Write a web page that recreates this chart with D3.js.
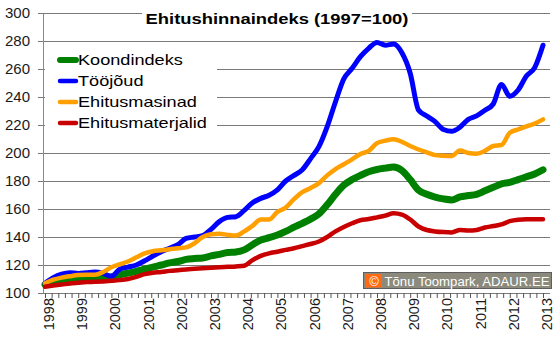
<!DOCTYPE html>
<html><head><meta charset="utf-8">
<script src="https://cdn.jsdelivr.net/npm/d3@7"></script>
<style>body{margin:0;background:#fff}svg{display:block}text{font-family:"Liberation Sans",Arial,sans-serif}</style>
</head><body><svg id="c" width="560" height="342"></svg>
<script>
const title = "Ehitushinnaindeks (1997=100)";
const credit = "Tõnu Toompark, ADAUR.EE";
const seriesNames = ["Koondindeks", "Tööjõud", "Ehitusmasinad", "Ehitusmaterjalid"];
const seriesColors = ["#008000", "#0000ff", "#ff9f00", "#c80000"];
const yearLabels = ["1998","1999","2000","2001","2002","2003","2004","2005","2006","2007","2008","2009","2010","2011","2012","2013"];
const yTicks = [100, 120, 140, 160, 180, 200, 220, 240, 260, 280, 300];
// quarterly values 1998.0 ... 2013.0
const koondindeks = [106,108,109.5,110.2,110.5,110.5,110.8,111,111.5,113,114.2,115.5,117,118.5,120,121.5,
  122.5,124,124.6,125,126.5,127.6,128.9,129.3,130.8,134.5,137.8,139.5,141.5,144,147,149.8,
  152.8,156.5,163,170.5,177,181,184,186.6,188.2,189.2,190,187.5,181,173.5,170.5,168.5,
  167.2,166.5,168.7,169.6,170.5,173,175.5,178,179,181,183,185,188];
const toojoud = [107,111,113.5,114.5,114,114.5,115,114,112,117,118.5,120,123,126.4,129.5,132,
  134.5,139,140,141,145.5,151,154,154.5,159,164.5,167.6,169.8,173.6,180,184,188,
  196,204.5,218.8,236.6,253,260.5,268.8,274.8,279,277,277.8,271.6,257,230.7,226.4,222.4,
  216.8,215.5,218.5,224,226.5,230.5,235,249,240.5,245,255,261,277];
const ehitusmasinad = [107,109.5,111,112,112.8,113,113,115,118.4,120.5,122.5,125.5,128.3,129.8,130.5,131.2,
  132,132.6,135.5,140,142,142.3,141.5,141,144,148,152.5,152.5,158,161,167,172,
  175,178.5,184,188.5,192,195.5,199.3,201.5,207,208.8,209.8,208,205,202.5,200.5,198.5,
  198,197.8,201.8,200,199.5,201.5,205,205.7,214.5,216.8,219,221,224];
const ehitusmaterjalid = [104.5,105.3,106,106.8,107.3,107.8,108,108.3,108.7,109.2,110,111.5,113.5,114.5,115,115.8,
  116.3,116.8,117.3,117.7,118,118.4,118.7,119,119.5,123.5,126.5,128.3,129.5,130.8,132,133.5,
  135,136.8,140,144,147.2,149.8,152,152.8,154,155.3,157,156,152.5,147.5,145,144,
  143.5,143.3,145,144.6,145,146.8,147.8,149,151.3,152.3,152.6,152.6,152.6];
const seriesValues = [koondindeks, toojoud, ehitusmasinad, ehitusmaterjalid];
const seriesWidths = [7, 5, 4.5, 4.5];
const periods = d3.range(koondindeks.length).map(i => 1998 + i / 4);

const svg = d3.select("#c");
const x = d3.scaleLinear().domain([1998, 2013]).range([45, 543]);
const y = d3.scaleLinear().domain([100, 300]).range([293, 13]);
const right = 550;

// gridlines
svg.append("g").selectAll("line").data(yTicks).join("line")
  .attr("x1", 38).attr("x2", right).attr("y1", d => y(d)).attr("y2", d => y(d))
  .attr("stroke", "#7a7a7a").attr("stroke-width", 1).attr("shape-rendering", "crispEdges");

// y axis
const yAxis = d3.axisLeft(y).tickValues(yTicks).tickSize(0).tickPadding(13);
const gy = svg.append("g").attr("transform", "translate(43,0)").call(yAxis);
gy.select(".domain").attr("stroke", "#8a8a8a").attr("shape-rendering", "crispEdges");
gy.selectAll("text").attr("font-size", 15).attr("fill", "#1a1a1a")
  .attr("font-family", '"Liberation Sans",Arial,sans-serif');

// x axis minor ticks
const minor = d3.range(0, 76).map(i => 1998 + i * 0.2);
const xAxis = d3.axisBottom(x).tickValues(minor).tickSize(5).tickFormat("");
const gx = svg.append("g").attr("transform", "translate(0,293)").call(xAxis);
gx.select(".domain").attr("d", `M43,0.5H${right}`).attr("stroke", "#7a7a7a");
gx.selectAll(".tick line").attr("stroke", "#555");

// x labels
svg.append("g").selectAll("text").data(yearLabels).join("text")
  .attr("transform", d => `translate(${x(+d) + 4},298) rotate(-90)`)
  .attr("text-anchor", "end").attr("dy", "0.35em")
  .attr("font-size", 14.5).attr("fill", "#1a1a1a").text(d => d);

// lines
const line = d3.line().x((d, i) => x(periods[i])).y(d => y(d)).curve(d3.curveMonotoneX);
svg.append("g").selectAll("path").data(seriesValues).join("path")
  .attr("d", d => line(d)).attr("fill", "none")
  .attr("stroke", (d, i) => seriesColors[i]).attr("stroke-width", (d, i) => seriesWidths[i])
  .attr("stroke-linecap", "round").attr("stroke-linejoin", "round");

// title
svg.append("rect").attr("x", 142).attr("y", 3).attr("width", 270).attr("height", 27).attr("fill", "#fff");
svg.append("text").attr("transform", "translate(277,24) scale(1.225,1)")
  .attr("text-anchor", "middle").attr("font-weight", "bold").attr("font-size", 15)
  .attr("fill", "#000").text(title);

// legend
svg.append("rect").attr("x", 45).attr("y", 47).attr("width", 172).attr("height", 88).attr("fill", "#fff");
const lg = svg.append("g").selectAll("g").data(seriesNames).join("g")
  .attr("transform", (d, i) => `translate(0,${60 + i * 21})`);
lg.append("line").attr("x1", 60).attr("x2", 76).attr("y1", 0).attr("y2", 0)
  .attr("stroke", (d, i) => seriesColors[i]).attr("stroke-width", (d, i) => i === 0 ? 6 : 4.5)
  .attr("stroke-linecap", "round");
lg.append("text").attr("transform", "translate(78,0) scale(1.25,1)")
  .attr("dy", "0.36em").attr("font-size", 14.5).attr("fill", "#000").text(d => d);

// credit box
const cb = svg.append("g");
cb.append("rect").attr("x", 363.5).attr("y", 272.5).attr("width", 188).attr("height", 16)
  .attr("fill", "#8b8a7d").attr("stroke", "#5e5e5e").attr("stroke-width", 1);
cb.append("rect").attr("x", 366).attr("y", 274).attr("width", 16).attr("height", 13.5).attr("fill", "#ff6a13");
cb.append("text").attr("x", 374).attr("y", 285.5).attr("text-anchor", "middle")
  .attr("font-family", '"DejaVu Sans",sans-serif').attr("font-size", 13).attr("fill", "#fff").text("©");
cb.append("text").attr("x", 384.5).attr("y", 285.5)
  .attr("font-family", '"DejaVu Sans",sans-serif').attr("font-size", 12.3)
  .attr("textLength", 165).attr("lengthAdjust", "spacingAndGlyphs")
  .attr("fill", "#fff").text(credit);
</script></body></html>
